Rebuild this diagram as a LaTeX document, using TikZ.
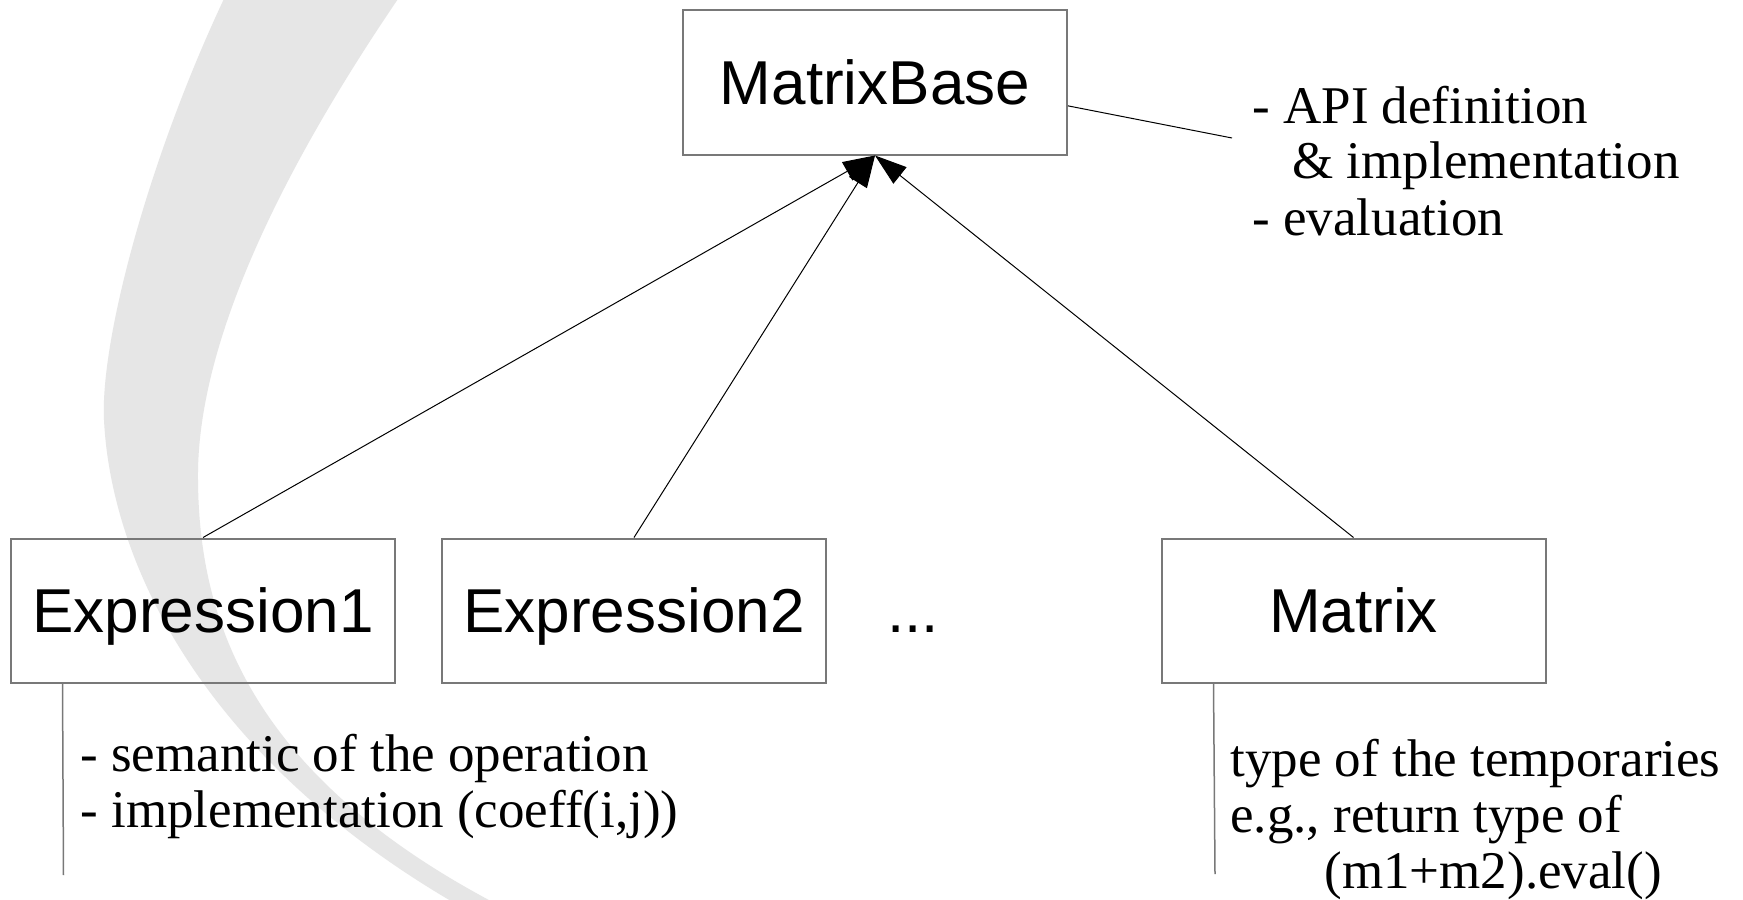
\documentclass[tikz,border=0pt]{standalone}
\usepackage{fontspec}
\setmainfont{Liberation Serif}
\setsansfont{Liberation Sans}
\usetikzlibrary{arrows.meta,calc}

\definecolor{swooshgray}{RGB}{230,230,230}
\definecolor{framegray}{RGB}{120,120,120}

\tikzset{
  classbox/.style={rectangle, draw=framegray, line width=1pt,
    minimum width=192pt, minimum height=72pt, inner sep=0pt,
    text height=22.2pt, text depth=0pt,
    font=\sffamily\fontsize{31pt}{37pt}\selectfont},
  plainlabel/.style={inner sep=0pt, text height=22.2pt, text depth=0pt,
    font=\sffamily\fontsize{31pt}{37pt}\selectfont},
  inherit/.style={draw=black, line width=0.5pt,
    -{Triangle[length=16pt,width=10.5pt]}},
  link/.style={draw=black, line width=0.5pt},
  leader/.style={draw=framegray, line width=0.75pt},
  notetext/.style={inner sep=0pt, anchor=base west,
    font=\fontsize{26.5pt}{28pt}\selectfont},
}

\begin{document}
\begin{tikzpicture}[x=0.5pt, y=-0.5pt]
  \useasboundingbox (0,0) rectangle (1743,899);
  \fill[white] (0,0) rectangle (1743,899);

  % decorative background band
  \begin{scope}
    \clip (0,0) rectangle (1743,899);
    \fill[swooshgray]
      (233,-20) .. controls (150,150) and (100,340) .. (104,420)
      .. controls (111,560) and (200,760) .. (470,912)
      -- (512,912)
      .. controls (250,780) and (199,620) .. (198,480)
      .. controls (196,330) and (300,140) .. (411,-20)
      -- cycle;
  \end{scope}

  % classes
  \node[classbox] (mb) at (875,82.5) {MatrixBase};
  \node[classbox] (e1) at (203,610.5) {Expression1};
  \node[classbox] (e2) at (634,610.5) {Expression2};
  \node[plainlabel] (dots) at (913,610.5) {...};
  \node[classbox] (mx) at (1353.5,610.5) {Matrix};

  % inheritance
  \draw[inherit] (e1.north) -- (mb.south);
  \draw[inherit] (e2.north) -- (mb.south);
  \draw[inherit] (mx.north) -- (mb.south);

  % notes
  \node[notetext] (apinote) at (1252,123) {\vtop{%
      \hbox{- API definition}%
      \hbox{\hspace*{20pt}\& implementation}%
      \hbox{- evaluation}}};
  \coordinate (apiend) at (1232,138);
  \draw[link] ($(mb.south east)!0.34!(mb.north east)$) -- (apiend);

  \node[notetext] (exprnote) at (80,771) {\vtop{%
      \hbox{- semantic of the operation}%
      \hbox{- implementation (coeff(i,j))}}};
  \coordinate (exprend) at (63.5,875);
  \draw[leader] ([xshift=26.25pt]e1.south west) -- (exprend);

  \node[notetext] (matnote) at (1230,776) {\vtop{%
      \hbox{type of the temporaries}%
      \hbox{e.g., return type of}%
      \hbox{\hspace*{47pt}(m1+m2).eval()}}};
  \coordinate (matend) at (1215,874);
  \draw[leader] ([xshift=26.5pt]mx.south west) -- (matend);
\end{tikzpicture}
\end{document}
